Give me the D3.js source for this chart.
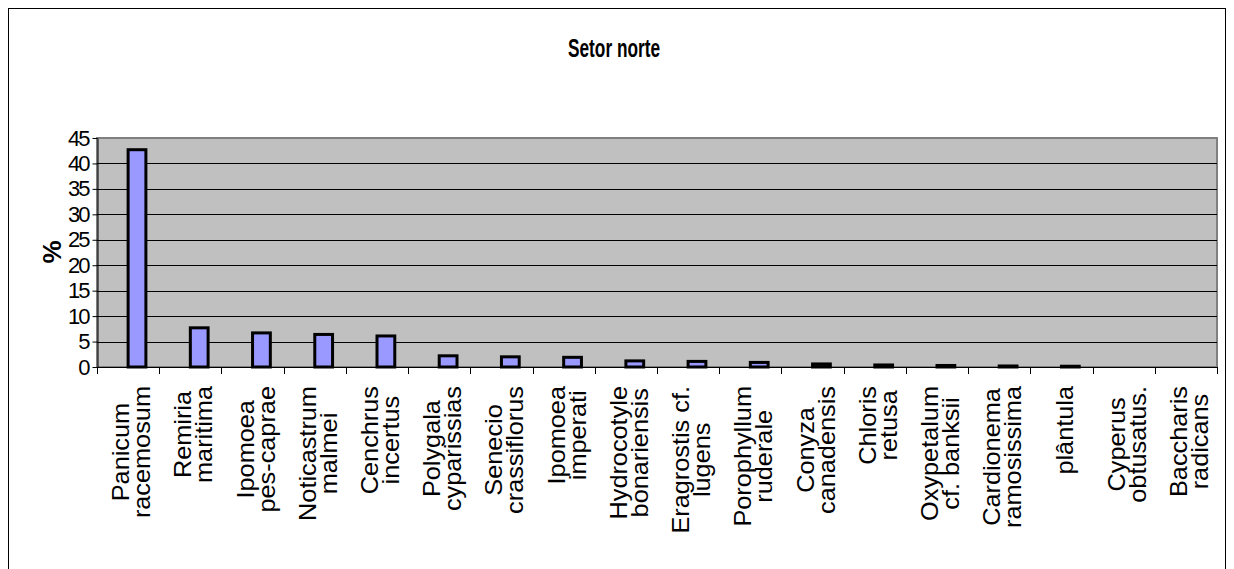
<!DOCTYPE html>
<html>
<head>
<meta charset="utf-8">
<script src="https://cdn.jsdelivr.net/npm/d3@7"></script>
<style>
  html, body { margin: 0; padding: 0; background: #fff; }
  svg { display: block; font-family: Arial, "Liberation Sans", sans-serif; }
</style>
</head>
<body>
<svg id="chart" width="1234" height="569"></svg>
<script>
// Species (two-line labels split with "\n") and their share in percent
const species = [
  "Panicum\nracemosum",
  "Remiria\nmaritima",
  "Ipomoea\npes-caprae",
  "Noticastrum\nmalmei",
  "Cenchrus\nincertus",
  "Polygala\ncyparissias",
  "Senecio\ncrassiflorus",
  "Ipomoea\nimperati",
  "Hydrocotyle\nbonariensis",
  "Eragrostis cf.\nlugens",
  "Porophyllum\nruderale",
  "Conyza\ncanadensis",
  "Chloris\nretusa",
  "Oxypetalum\ncf. banksii",
  "Cardionema\nramosissima",
  "plântula",
  "Cyperus\nobtusatus.",
  "Baccharis\nradicans"
];
const percent = [42.7, 7.7, 6.7, 6.4, 6.1, 2.2, 2.0, 1.9, 1.2, 1.1, 0.9, 0.6, 0.4, 0.3, 0.2, 0.15, 0, 0];
const yTicks = [0, 5, 10, 15, 20, 25, 30, 35, 40, 45];
const title = "Setor norte";
const yTitle = "%";

const svg = d3.select("#chart");

// outer chart frame
svg.append("rect")
  .attr("x", 8.5).attr("y", 8.5)
  .attr("width", 1217).attr("height", 580)
  .attr("fill", "#fff").attr("stroke", "#000").attr("stroke-width", 1);

const plot = { left: 97, right: 1217, top: 138, bottom: 367 };

const x = d3.scaleBand()
  .domain(species)
  .range([plot.left, plot.right])
  .paddingInner(0).paddingOuter(0);

const y = d3.scaleLinear()
  .domain([0, 45])
  .range([plot.bottom, plot.top]);

// plot area background
svg.append("rect")
  .attr("x", plot.left).attr("y", plot.top)
  .attr("width", plot.right - plot.left).attr("height", plot.bottom - plot.top)
  .attr("fill", "#c0c0c0").attr("stroke", "#808080").attr("stroke-width", 2);

// horizontal gridlines
svg.append("g")
  .selectAll("line")
  .data(yTicks.filter(d => d > 0 && d < 45))
  .join("line")
  .attr("x1", plot.left).attr("x2", plot.right)
  .attr("y1", d => Math.round(y(d)) + 0.5).attr("y2", d => Math.round(y(d)) + 0.5)
  .attr("stroke", "#000").attr("stroke-width", 1);

// bars: second slot of a two-slot cluster with 150% gap
const barW = x.bandwidth() / 3.5;
svg.append("g")
  .selectAll("rect")
  .data(species.map((s, i) => ({ s, v: percent[i] })))
  .join("rect")
  .attr("x", d => x(d.s) + x.bandwidth() / 2)
  .attr("y", d => y(d.v))
  .attr("width", barW)
  .attr("height", d => y(0) - y(d.v))
  .attr("fill", "#9999ff")
  .attr("stroke", "#000")
  .attr("stroke-width", 3);

// y axis
const yAxis = svg.append("g")
  .attr("transform", `translate(${plot.left + 0.5},0)`)
  .call(d3.axisLeft(y).tickValues(yTicks).tickSize(5).tickSizeOuter(0).tickPadding(4));
yAxis.select(".domain").attr("stroke", "#000");
yAxis.selectAll(".tick line").attr("stroke", "#000");
yAxis.selectAll(".tick text")
  .attr("font-size", 22)
  .attr("fill", "#000")
  .attr("font-family", "Arial, 'Liberation Sans', sans-serif")
  .attr("letter-spacing", -2);

// x axis ticks at category boundaries
const bounds = species.map(s => x(s)).concat([plot.right]);
svg.append("line")
  .attr("x1", plot.left).attr("x2", plot.right)
  .attr("y1", plot.bottom + 0.5).attr("y2", plot.bottom + 0.5)
  .attr("stroke", "#000");
svg.append("g")
  .selectAll("line")
  .data(bounds)
  .join("line")
  .attr("x1", d => Math.round(d) + 0.5).attr("x2", d => Math.round(d) + 0.5)
  .attr("y1", plot.bottom).attr("y2", plot.bottom + 7)
  .attr("stroke", "#000");

// rotated category labels, lines centred on each other, top edge just below the axis
const stretch = 1.1, lineStep = 21, labelTop = 386, fs = 23;
species.forEach(s => {
  const lines = s.split("\n");
  const g = svg.append("g");
  const texts = lines.map((ln, i) =>
    g.append("text")
      .attr("text-anchor", "middle")
      .attr("font-size", fs)
      .attr("fill", "#000")
      .attr("y", 11.5 + (i - (lines.length - 1) / 2) * lineStep)
      .text(ln));
  const maxLen = d3.max(texts, t => t.node().getComputedTextLength()) * stretch;
  const cx = x(s) + x.bandwidth() / 2;
  g.attr("transform", `translate(${cx},${labelTop + maxLen / 2}) rotate(-90) scale(${stretch},1)`);
});

// title
svg.append("text")
  .attr("x", 614).attr("y", 57)
  .attr("text-anchor", "middle")
  .attr("font-size", 26).attr("font-weight", "bold")
  .attr("textLength", 92).attr("lengthAdjust", "spacingAndGlyphs")
  .text(title);

// y axis title
svg.append("text")
  .attr("transform", "translate(61,252) rotate(-90)")
  .attr("text-anchor", "middle")
  .attr("font-size", 26).attr("font-weight", "bold")
  .text(yTitle);
</script>
</body>
</html>
